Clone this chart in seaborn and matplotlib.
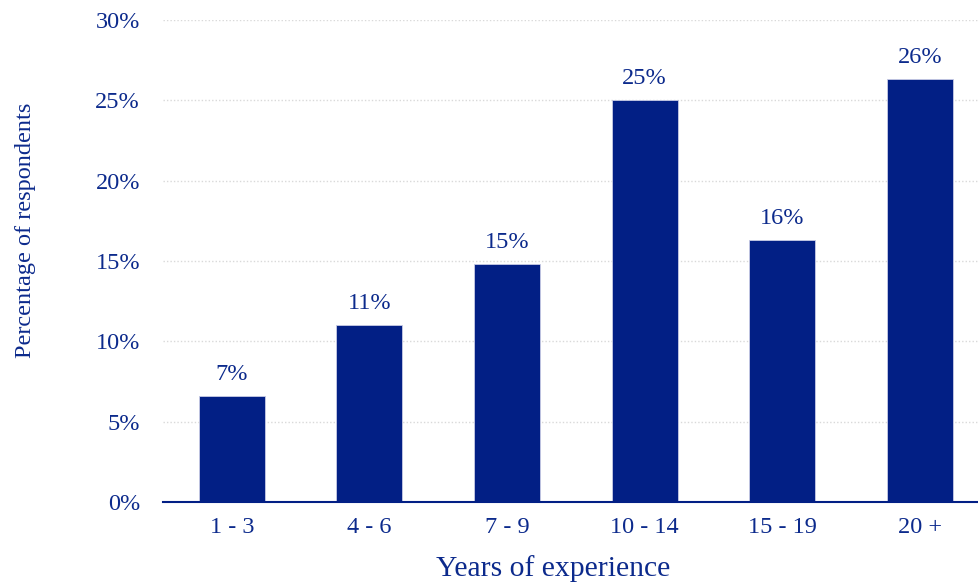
import matplotlib
matplotlib.use("Agg")
import matplotlib.pyplot as plt
import seaborn as sns
import pandas as pd

# data
categories = ["1 - 3", "4 - 6", "7 - 9", "10 - 14", "15 - 19", "20 +"]
share = [6.6, 11.0, 14.8, 25.0, 16.3, 26.3]
y_ticks = [0, 5, 10, 15, 20, 25, 30]

NAVY = "#021f85"
TEXT = "#0c2a8c"

sns.set_theme(style="white")
plt.rcParams["font.family"] = ["Liberation Serif", "DejaVu Serif"]

df = pd.DataFrame({"Years": categories, "Share": share})

fig = plt.figure(figsize=(9.79, 5.84), dpi=100)
ax = fig.add_axes([0.1665, 0.1404, 0.8335, 0.8253])

sns.barplot(
    data=df,
    x="Years",
    y="Share",
    color=NAVY,
    saturation=1,
    width=0.48,
    edgecolor="#c8cce6",
    linewidth=0.6,
    ax=ax
)

ax.bar_label(
    ax.containers[0],
    labels=[f"{v:.0f}%" for v in share],
    padding=8,
    color=TEXT,
    fontsize=17.5
)

ax.set_ylim(0, 30)
ax.set_xlim(-0.5, 5.43)
ax.set_yticks(y_ticks)
ax.set_yticklabels([f"{t}%" for t in y_ticks])
ax.yaxis.grid(True, linestyle=(0, (1, 1.5)), color="#d9d9d9", linewidth=1)
ax.set_axisbelow(True)

for side in ["top", "right", "left"]:
    ax.spines[side].set_visible(False)
ax.spines["bottom"].set_color(NAVY)
ax.spines["bottom"].set_linewidth(1.5)

ax.tick_params(axis="y", length=0, pad=16.5, labelsize=17.5, labelcolor=TEXT)
ax.tick_params(axis="x", length=0, pad=11, labelsize=17.5, labelcolor=TEXT)

ax.set_xlabel("Years of experience", fontsize=21.3, color=TEXT)
ax.xaxis.set_label_coords((553 - 163) / 816, -(555 - 502) / 482)
ax.set_ylabel("Percentage of respondents", fontsize=17.5, color=TEXT)
ax.yaxis.set_label_coords(-(163 - 36) / 816, (502 - 230) / 482)

fig.savefig("out.png", dpi=100)
